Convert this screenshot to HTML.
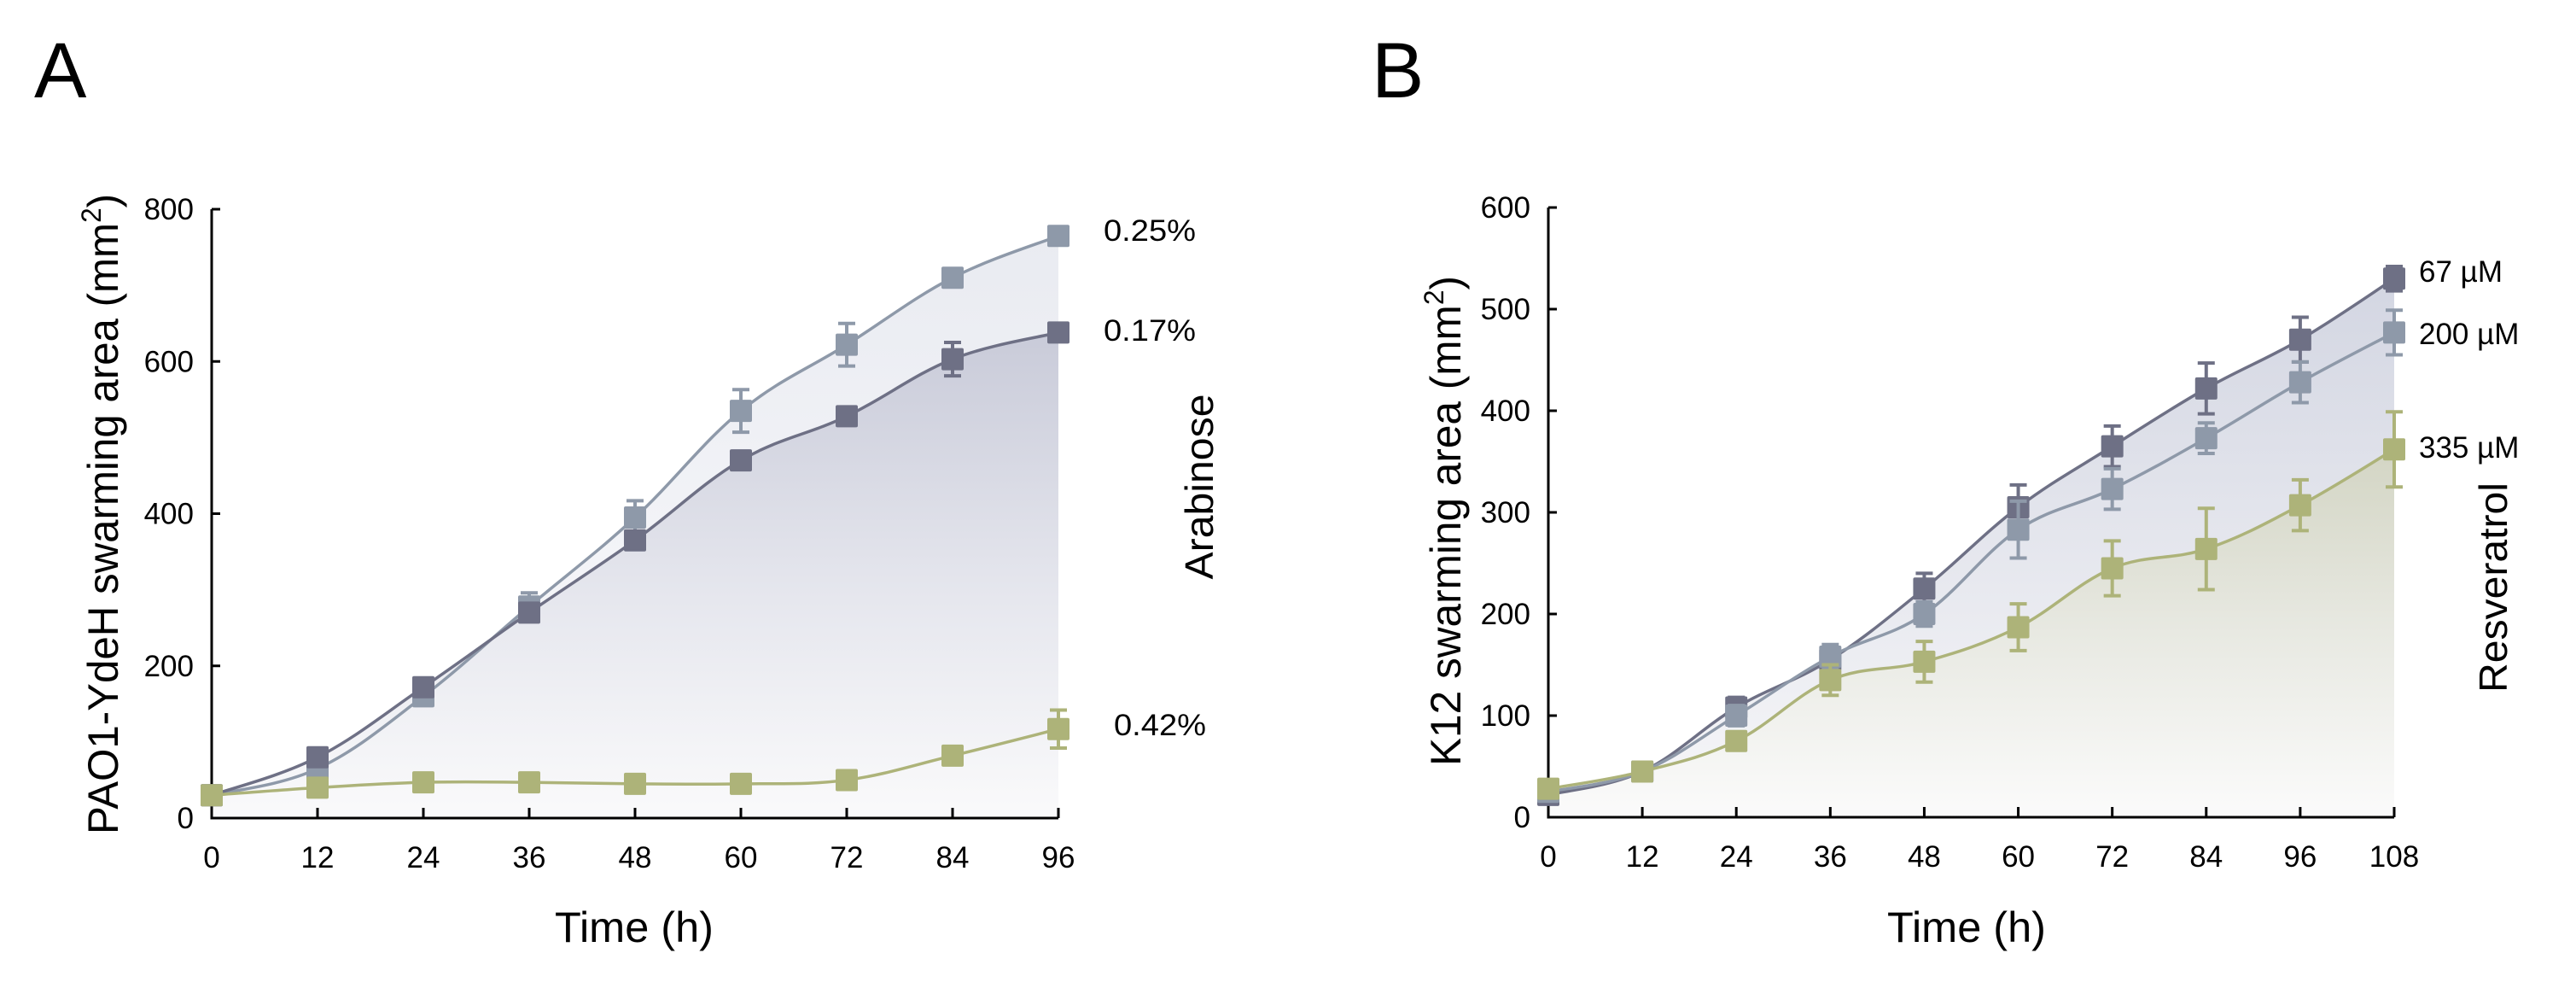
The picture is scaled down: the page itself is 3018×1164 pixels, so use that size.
<!DOCTYPE html>
<html><head><meta charset="utf-8"><style>
html,body{margin:0;padding:0;background:#fff;}
svg{display:block;}
text{font-family:"Liberation Sans Narrow","Liberation Sans",sans-serif;fill:#000;}
.big{font-family:"Liberation Sans",sans-serif;}
</style></head><body>
<svg id="fig" width="3018" height="1164" viewBox="0 0 3018 1164" xmlns="http://www.w3.org/2000/svg">
<defs>
<linearGradient id="gA1" x1="0" y1="0" x2="0" y2="1"><stop offset="0" stop-color="#e9ebf1"/><stop offset="1" stop-color="#fbfbfd"/></linearGradient>
<linearGradient id="gA2" x1="0" y1="0" x2="0" y2="1"><stop offset="0" stop-color="#c9cbd9"/><stop offset="0.55" stop-color="#e6e7ee"/><stop offset="1" stop-color="#fafafb"/></linearGradient>
<linearGradient id="gB1" x1="0" y1="0" x2="0" y2="1"><stop offset="0" stop-color="#d3d6e2"/><stop offset="1" stop-color="#f7f7f9"/></linearGradient>
<linearGradient id="gB2" x1="0" y1="0" x2="0" y2="1"><stop offset="0" stop-color="#d3d5c4"/><stop offset="0.5" stop-color="#e8e9e2"/><stop offset="1" stop-color="#fbfbfb"/></linearGradient>
</defs>
<text class="big" x="40" y="114" font-size="92">A</text>
<text class="big" x="1607" y="114" font-size="92">B</text>
<g id="chartA"></g>
<g id="chartB"></g>
<g>
<text class="big" transform="translate(138,602) rotate(-90)" font-size="50" text-anchor="middle" textLength="750" lengthAdjust="spacingAndGlyphs">PAO1-YdeH swarming area (mm<tspan dy="-20" font-size="32">2</tspan><tspan dy="20">)</tspan></text>
<text x="743" y="1103" font-size="50" text-anchor="middle" textLength="186" lengthAdjust="spacingAndGlyphs">Time (h)</text>
<text class="big" transform="translate(1421,570) rotate(-90)" font-size="46" text-anchor="middle" textLength="217" lengthAdjust="spacingAndGlyphs">Arabinose</text>
<text x="1293" y="282" font-size="35" textLength="108" lengthAdjust="spacingAndGlyphs">0.25%</text>
<text x="1293" y="399" font-size="35" textLength="108" lengthAdjust="spacingAndGlyphs">0.17%</text>
<text x="1305" y="861" font-size="35" textLength="108" lengthAdjust="spacingAndGlyphs">0.42%</text>
<text class="big" transform="translate(1711,610) rotate(-90)" font-size="50" text-anchor="middle" textLength="574" lengthAdjust="spacingAndGlyphs">K12 swarming area (mm<tspan dy="-20" font-size="32">2</tspan><tspan dy="20">)</tspan></text>
<text x="2304" y="1103" font-size="50" text-anchor="middle" textLength="186" lengthAdjust="spacingAndGlyphs">Time (h)</text>
<text class="big" transform="translate(2937,688) rotate(-90)" font-size="46" text-anchor="middle" textLength="246" lengthAdjust="spacingAndGlyphs">Resveratrol</text>
<text x="2834" y="330" font-size="35">67 µM</text>
<text x="2834" y="403" font-size="35">200 µM</text>
<text x="2834" y="536" font-size="35">335 µM</text>
</g>
</svg>
<script>
// Panel A data
const catsA = [0,12,24,36,48,60,72,84,96];
const a025 = [30,65,160,278,395,535,622,710,765];
const a025err = [0,0,12,18,22,28,28,8,8];
const a017 = [30,80,172,270,365,470,528,603,638];
const a017err = [0,8,8,10,10,12,12,22,8];
const a042 = [30,40,47,47,45,45,50,82,117];
const a042err = [0,0,0,0,0,0,0,0,25];
const yTicksA = [0,200,400,600,800];
// Panel B data
const catsB = [0,12,24,36,48,60,72,84,96,108];
const b67 = [22,45,108,155,225,305,365,422,470,530];
const b67err = [0,0,10,12,15,22,20,25,22,12];
const b200 = [25,45,100,158,200,283,323,373,428,477];
const b200err = [0,0,10,12,12,28,20,15,20,22];
const b335 = [28,45,75,135,153,187,245,264,307,362];
const b335err = [0,0,5,15,20,23,27,40,25,37];
const yTicksB = [0,100,200,300,400,500,600];

const NS="http://www.w3.org/2000/svg";
function mk(tag,attrs,parent){const e=document.createElementNS(NS,tag);for(const k in attrs)e.setAttribute(k,attrs[k]);parent.appendChild(e);return e;}
function smooth(pts){let d="M"+pts[0][0]+","+pts[0][1];for(let i=0;i<pts.length-1;i++){const p0=pts[Math.max(i-1,0)],p1=pts[i],p2=pts[i+1],p3=pts[Math.min(i+2,pts.length-1)];const t=0.18;
const c1=[p1[0]+(p2[0]-p0[0])*t,p1[1]+(p2[1]-p0[1])*t],c2=[p2[0]-(p3[0]-p1[0])*t,p2[1]-(p3[1]-p1[1])*t];d+=" C"+c1[0]+","+c1[1]+" "+c2[0]+","+c2[1]+" "+p2[0]+","+p2[1];}return d;}

function chart(g,cfg){
  const X=v=>cfg.x0+(v-cfg.cats[0])/(cfg.cats[cfg.cats.length-1]-cfg.cats[0])*(cfg.x1-cfg.x0);
  const Y=v=>cfg.y0-v/cfg.ymax*(cfg.y0-cfg.y1);
  cfg.fills.forEach(f=>{const pts=cfg.cats.map((c,i)=>[X(c),Y(f.vals[i])]);
    const p=mk("path",{d:smooth(pts)+" L"+X(cfg.cats[cfg.cats.length-1])+","+cfg.y0+" L"+X(cfg.cats[0])+","+cfg.y0+" Z",fill:f.fill},g);
    
    });
  const ax=mk("path",{d:"M"+cfg.x0+","+cfg.y1+" L"+cfg.x0+","+cfg.y0+" L"+cfg.x1+","+cfg.y0,fill:"none",stroke:"#000","stroke-width":3},g);
  
  
  cfg.yt.forEach(v=>{const y=Y(v);
    const t=mk("line",{x1:cfg.x0,x2:cfg.x0+10,y1:y,y2:y,stroke:"#000","stroke-width":3},g);
    
    
    const l=mk("text",{x:cfg.x0-21,y:y+12,"font-size":35,"text-anchor":"end"},g);l.textContent=v;
    
    });
  cfg.cats.forEach(c=>{const x=X(c);
    const t=mk("line",{x1:x,x2:x,y1:cfg.y0,y2:cfg.y0-12,stroke:"#000","stroke-width":3},g);
    
    
    const l=mk("text",{x:x,y:cfg.y0+58,"font-size":35,"text-anchor":"middle"},g);l.textContent=c;
    
    });
  cfg.series.forEach(s=>{const pts=cfg.cats.map((c,i)=>[X(c),Y(s.vals[i])]);
    const ln=mk("path",{d:smooth(pts),fill:"none",stroke:s.color,"stroke-width":3.5},g);
    
    
    cfg.cats.forEach((c,i)=>{const x=X(c),y=Y(s.vals[i]),e=s.err[i]*(cfg.y0-cfg.y1)/cfg.ymax;
      if(e>0){const eb=mk("path",{d:`M${x},${y-e} L${x},${y+e} M${x-10},${y-e} L${x+10},${y-e} M${x-10},${y+e} L${x+10},${y+e}`,stroke:s.color,"stroke-width":4,fill:"none"},g);
        
        }
      const r=mk("rect",{x:x-13,y:y-13,width:26,height:26,rx:2,fill:s.color},g);
      
      });});
}
chart(document.getElementById('chartA'),{cats:catsA,x0:248,x1:1240,y0:958,y1:245,ymax:800,yt:yTicksA,
  fills:[{vals:a025,fill:"url(#gA1)"},{vals:a017,fill:"url(#gA2)"}],
  series:[{name:'0-25pct',vals:a025,err:a025err,color:"#8e99a9"},{name:'0-17pct',vals:a017,err:a017err,color:"#6e7085"},{name:'0-42pct',vals:a042,err:a042err,color:"#adb379"}]});
chart(document.getElementById('chartB'),{cats:catsB,x0:1814,x1:2805,y0:957,y1:243,ymax:600,yt:yTicksB,
  fills:[{vals:b67,fill:"url(#gB1)"},{vals:b335,fill:"url(#gB2)"}],
  series:[{name:'67uM',vals:b67,err:b67err,color:"#6e7085"},{name:'200uM',vals:b200,err:b200err,color:"#8e99a9"},{name:'335uM',vals:b335,err:b335err,color:"#adb379"}]});
</script>
</body></html>
